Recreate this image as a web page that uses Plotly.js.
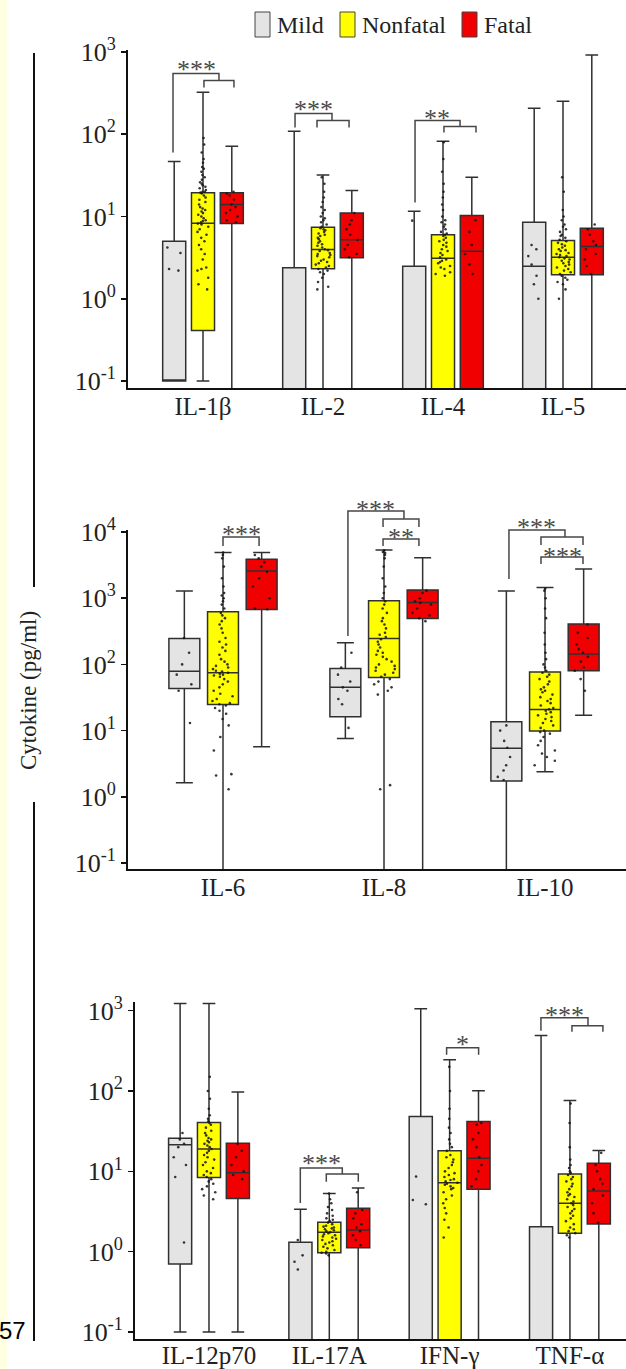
<!DOCTYPE html>
<html><head><meta charset="utf-8">
<script src="https://cdn.plot.ly/plotly-3.0.1.min.js"></script>
<style>html,body{margin:0;padding:0;background:#fff;}#chart{width:626px;height:1369px;}</style>
</head><body><div id="chart"></div>
<script>
// ---------------- DATA ----------------
const groupNames = ['Mild', 'Nonfatal', 'Fatal'];
const panel1Cats = ['IL-1β', 'IL-2', 'IL-4', 'IL-5'];
const panel2Cats = ['IL-6', 'IL-8', 'IL-10'];
const panel3Cats = ['IL-12p70', 'IL-17A', 'IFN-γ', 'TNF-α'];

// box summaries per category: [lower whisker, Q1, median, Q3, upper whisker] (pg/ml); 0.01 = undetectable (below axis)
const p1Mild     = [[0.1, 0.1, 0.1, 5.0, 46.5], [0.01, 0.01, 0.01, 2.38, 109], [0.01, 0.01, 0.01, 2.49, 11.6], [0.01, 0.01, 2.49, 8.5, 207]];
const p1Nonfatal = [[0.1, 0.41, 8.3, 19.5, 324], [0.01, 2.31, 3.97, 7.4, 32], [0.01, 0.01, 3.1, 6.0, 82], [0.01, 1.96, 3.2, 5.1, 252]];
const p1Fatal    = [[0.01, 8.2, 14, 19.5, 71.5], [0.01, 3.15, 5.2, 11, 20.7], [0.01, 0.01, 3.79, 10.3, 30], [0.01, 1.96, 4.32, 7.2, 922]];

const p2Mild     = [[1.63, 43.4, 79, 247, 1280], [7.6, 16.2, 45, 87, 212], [0.01, 1.73, 5.4, 13.6, 1280]];
const p2Nonfatal = [[0.01, 24.9, 74.7, 623, 4920], [0.01, 63.6, 247, 914, 5330], [2.39, 9.9, 20.9, 77, 1456]];
const p2Fatal    = [[5.7, 677, 2570, 3890, 4920], [0.01, 495, 864, 1325, 4080], [17.1, 80, 143, 406, 2750]];

const p3Mild     = [[0.1, 0.70, 21.4, 25.9, 1230], [0.01, 0.01, 0.01, 1.31, 3.38], [0.01, 0.01, 0.01, 48, 1058], [0.01, 0.01, 0.01, 2.05, 492]];
const p3Nonfatal = [[0.1, 8.4, 19, 40.5, 1230], [0.01, 0.97, 1.75, 2.32, 5.3], [0.01, 0.01, 7.2, 18.1, 245], [0.01, 1.69, 4.0, 9.3, 76]];
const p3Fatal    = [[0.1, 4.6, 9.6, 22.4, 97], [0.01, 1.12, 1.86, 3.47, 6.2], [0.01, 6.0, 14.6, 41.7, 101], [0.01, 2.21, 5.7, 12.6, 18.2]];

// individual patient values (detectable ones), per category
const p1MildPts = [[4.2, 3.6, 2.3, 2.2], [], [8.9], [4.5, 4, 3.3, 2.6, 1.9, 1.5, 1.0]];
const p1NonfatalPts = [
  [90, 75, 60, 50, 45, 40, 38, 35, 32, 30, 28, 26, 25, 24, 23, 22, 21, 20, 20, 19.5, 19, 18, 17, 16, 15, 14, 13, 12.5, 12, 11.5, 11, 10.5, 10, 9.5, 9, 8.8, 8.5, 8.2, 8, 7.5, 7, 6.5, 6, 5.5, 5, 4.5, 4, 3.5, 3, 2.4, 2.3, 2.2, 1.8, 1.5, 1.3],
  [30, 25, 20, 17, 15, 13, 12, 11, 10, 9.5, 9, 8.5, 8, 7.5, 7.2, 7, 6.8, 6.5, 6.2, 6, 5.8, 5.5, 5.3, 5, 4.8, 4.6, 4.4, 4.2, 4, 3.9, 3.8, 3.6, 3.5, 3.4, 3.3, 3.2, 3, 2.9, 2.8, 2.7, 2.6, 2.5, 2.4, 2.3, 2.2, 2.1, 2, 1.8, 1.6, 1.4, 1.3],
  [80, 50, 35, 25, 20, 17, 14, 12, 10, 9, 8.5, 8, 7.5, 7, 6.5, 6.2, 6, 5.8, 5.5, 5.2, 5, 4.8, 4.5, 4.3, 4, 3.8, 3.6, 3.4, 3.2, 3, 2.9, 2.8, 2.7, 2.5, 2.4, 2.3, 2.1, 2.0, 1.9],
  [30, 20, 12, 10, 9, 8, 7.5, 7, 6.5, 6, 5.8, 5.5, 5.2, 5, 4.8, 4.6, 4.4, 4.2, 4, 3.9, 3.8, 3.6, 3.5, 3.4, 3.3, 3.2, 3.1, 3, 2.9, 2.8, 2.7, 2.6, 2.5, 2.4, 2.3, 2.2, 2.1, 2, 1.9, 1.8, 1.7, 1.6, 1.5, 1.3, 1.0]
];
const p1FatalPts = [[20, 19, 18, 16, 14, 13, 12, 11, 10, 9, 8.5], [11, 9, 8, 7, 6, 5.2, 4.5, 4, 3.5, 3.2], [9, 6.5, 4.5, 3.5, 2.6, 2.0], [8, 7, 6, 5, 4.5, 4, 3.5, 3, 2.5, 2]];

const p2MildPts = [[250, 150, 100, 70, 50, 40, 13], [150, 90, 70, 55, 45, 40, 30, 25, 11], [12, 10, 7, 5.5, 4, 3, 2.5, 2, 1.8]];
const p2NonfatalPts = [
  [4900, 4500, 4000, 3000, 2000, 1500, 1200, 1100, 1000, 900, 800, 700, 600, 550, 500, 450, 400, 350, 300, 250, 220, 200, 180, 160, 140, 120, 110, 100, 95, 90, 85, 80, 78, 75, 72, 70, 68, 65, 60, 55, 50, 45, 40, 36, 33, 30, 28, 26, 25, 24, 22, 20, 18, 15, 12, 8, 5, 2.2, 2.1, 1.3],
  [5300, 5000, 4800, 4500, 4000, 3000, 2000, 1500, 1200, 1000, 900, 800, 700, 600, 500, 450, 400, 350, 300, 280, 260, 240, 220, 200, 180, 160, 150, 140, 130, 120, 110, 100, 95, 90, 85, 80, 75, 70, 65, 60, 55, 50, 45, 40, 35, 1.5, 1.3],
  [1400, 1300, 1000, 700, 500, 300, 200, 150, 120, 100, 90, 80, 75, 70, 65, 60, 55, 50, 45, 42, 40, 38, 35, 32, 30, 28, 26, 24, 22, 21, 20, 19, 18, 17, 16, 15, 14, 13, 12, 11, 10, 9.5, 9, 8, 7, 6, 5, 4.5, 4, 3.5, 3]
];
const p2FatalPts = [[4500, 4000, 3500, 3000, 2500, 2000, 1500, 1000, 700, 680], [1300, 1200, 1000, 900, 850, 800, 700, 600, 550, 500, 450], [400, 300, 250, 200, 170, 150, 130, 110, 90, 80, 60, 40]];

const p3MildPts = [[30, 25, 22, 20, 15, 12, 8.5, 1.3], [1.4, 0.9, 0.75, 0.6], [8.6, 4.4, 3.9], []];
const p3NonfatalPts = [
  [150, 100, 80, 60, 50, 45, 42, 40, 38, 35, 32, 30, 28, 26, 25, 24, 23, 22, 21, 20, 19, 18, 17, 16, 15, 14, 13, 12, 11, 10, 9.5, 9, 8.5, 8, 7.5, 7, 6.5, 6, 5.5, 5, 4.5],
  [5.3, 4.5, 4, 3.6, 3.3, 3, 2.8, 2.6, 2.5, 2.4, 2.3, 2.2, 2.1, 2.05, 2, 1.95, 1.9, 1.85, 1.8, 1.75, 1.7, 1.65, 1.6, 1.55, 1.5, 1.45, 1.4, 1.35, 1.3, 1.25, 1.2, 1.15, 1.1, 1.05, 1.0, 0.97, 0.95, 0.9],
  [200, 100, 60, 45, 35, 30, 25, 22, 20, 18, 16, 15, 14, 13, 12, 11, 10, 9.5, 9, 8.5, 8, 7.8, 7.5, 7.2, 7, 6.8, 6.5, 6.2, 6, 5.5, 5, 4.5, 4, 3.5, 3, 2.5, 2, 1.5],
  [70, 40, 20, 14, 12, 11, 10, 9.5, 9, 8.5, 8, 7.5, 7, 6.5, 6, 5.5, 5.2, 5, 4.8, 4.5, 4.2, 4, 3.8, 3.6, 3.4, 3.2, 3, 2.8, 2.6, 2.4, 2.2, 2, 1.9, 1.8, 1.7, 1.6, 1.5]
];
const p3FatalPts = [[22, 18, 15, 12, 10, 9, 8], [5.5, 3.3, 3, 2.6, 2.2, 2, 1.8, 1.6, 1.4, 1.2], [40, 38, 30, 25, 20, 15, 12, 10, 8, 6.5], [17, 12, 10, 8, 7, 6, 5, 4, 3, 2.3]];

const p1TickVals = [0.1, 1, 10, 100, 1000];
const p1TickText = ['10<sup>-1</sup>', '10<sup>0</sup>', '10<sup>1</sup>', '10<sup>2</sup>', '10<sup>3</sup>'];
const p2TickVals = [0.1, 1, 10, 100, 1000, 10000];
const p2TickText = ['10<sup>-1</sup>', '10<sup>0</sup>', '10<sup>1</sup>', '10<sup>2</sup>', '10<sup>3</sup>', '10<sup>4</sup>'];

// significance marks: [panel, category, left offset, right offset, top (log10), left leg end (log10), right leg end (log10)]
const bracketSpecs = [
  [0, 0, -0.25, 0.133, 2.738, 1.778, 2.652], [0, 0, 0.008, 0.258, 2.652, 2.567, 2.567],
  [0, 1, -0.233, 0.075, 2.252, 2.082, 2.167], [0, 1, -0.05, 0.217, 2.167, 2.082, 2.082],
  [0, 2, -0.233, 0.142, 2.167, 1.170, 2.094], [0, 2, 0.008, 0.275, 2.094, 2.021, 2.021],
  [1, 0, 0.0, 0.224, 3.923, 3.787, 3.787],
  [1, 1, -0.224, 0.124, 4.316, 2.428, 4.195], [1, 1, -0.006, 0.217, 4.195, 4.074, 4.074], [1, 1, -0.006, 0.217, 3.893, 3.787, 3.787],
  [1, 2, -0.224, 0.124, 4.029, 3.289, 3.923], [1, 2, -0.025, 0.236, 3.923, 3.802, 3.802], [1, 2, -0.025, 0.236, 3.621, 3.515, 3.515],
  [2, 1, -0.241, 0.108, 1.043, 0.607, 0.968], [2, 1, -0.025, 0.241, 0.968, 0.869, 0.869],
  [2, 2, -0.025, 0.241, 2.538, 2.451, 2.451],
  [2, 3, -0.241, 0.150, 2.912, 2.750, 2.813], [2, 3, 0.017, 0.274, 2.813, 2.738, 2.738]
];
// [panel, category, offset, glyph centre (log10), text]
const starSpecs = [
  [0, 0, -0.058, 2.859, '***'], [0, 1, -0.079, 2.373, '***'], [0, 2, -0.046, 2.264, '**'],
  [1, 0, 0.112, 4.059, '***'], [1, 1, -0.05, 4.437, '***'], [1, 1, 0.106, 4.014, '**'],
  [1, 2, -0.05, 4.165, '***'], [1, 2, 0.106, 3.727, '***'],
  [2, 1, -0.067, 1.168, '***'], [2, 2, 0.108, 2.650, '*'], [2, 3, -0.046, 3.012, '***']
];

// ---------------- FIGURE ----------------
const W = 626, H = 1369;
const PX = v => v / W, PY = v => 1 - v / H;
const panels = [
  {cats: panel1Cats, xdom: [PX(128), 1], ydom: [PY(388), PY(50)], xr: [-0.625, 3.525], yr: [-1.085, 3.024], tv: p1TickVals, tt: p1TickText, so: -5},
  {cats: panel2Cats, xdom: [PX(128), 1], ydom: [PY(869), PY(530)], xr: [-0.59, 2.503], yr: [-1.09, 4.03], tv: p2TickVals, tt: p2TickText, so: -5},
  {cats: panel3Cats, xdom: [PX(135), 1], ydom: [PY(1339), PY(1002)], xr: [-0.615, 3.466], yr: [-1.087, 3.108], tv: p1TickVals, tt: p1TickText, so: -7}
];
const stats = [[p1Mild, p1Nonfatal, p1Fatal], [p2Mild, p2Nonfatal, p2Fatal], [p3Mild, p3Nonfatal, p3Fatal]];
const pts = [[p1MildPts, p1NonfatalPts, p1FatalPts], [p2MildPts, p2NonfatalPts, p2FatalPts], [p3MildPts, p3NonfatalPts, p3FatalPts]];
const fills = ['#e4e4e4', '#ffff00', '#f00000'];
const edge = '#303030';

const traces = [];
const layout = {
  width: W, height: H, margin: {l: 0, r: 0, t: 0, b: 0},
  paper_bgcolor: '#ffffff', plot_bgcolor: 'rgba(0,0,0,0)',
  font: {family: 'Liberation Serif', color: '#222'},
  boxmode: 'group', boxgap: 0.28, boxgroupgap: 0.2, showlegend: false,
  shapes: [], annotations: []
};

panels.forEach((P, p) => {
  const sfx = p === 0 ? '' : String(p + 1);
  const xa = 'x' + sfx, ya = 'y' + sfx;
  for (let g = 0; g < 3; g++) {
    const st = stats[p][g];
    traces.push({
      type: 'box', name: groupNames[g], x: P.cats, xaxis: xa, yaxis: ya,
      lowerfence: st.map(r => r[0]), q1: st.map(r => r[1]), median: st.map(r => r[2]),
      q3: st.map(r => r[3]), upperfence: st.map(r => r[4]),
      boxpoints: false, fillcolor: fills[g], line: {color: edge, width: 1.5}, whiskerwidth: 0.55,
      offsetgroup: groupNames[g], alignmentgroup: 'p' + p, hoverinfo: 'skip'
    });
  }
  for (let g = 0; g < 3; g++) {
    const xs = [], ys = [];
    pts[p][g].forEach((arr, ci) => arr.forEach(v => { xs.push(P.cats[ci]); ys.push(v); }));
    traces.push({
      type: 'box', name: groupNames[g] + ' patients', x: xs, y: ys, xaxis: xa, yaxis: ya,
      boxpoints: 'all', jitter: 0.7, pointpos: 0,
      marker: {size: 2.6, color: '#151515', opacity: 0.85},
      fillcolor: 'rgba(0,0,0,0)', line: {color: 'rgba(0,0,0,0)', width: 0}, whiskerwidth: 0,
      offsetgroup: groupNames[g], alignmentgroup: 'p' + p, hoverinfo: 'skip'
    });
  }
  layout['xaxis' + sfx] = {
    domain: P.xdom, range: P.xr, anchor: ya, type: 'category', categoryorder: 'array', categoryarray: P.cats,
    showline: true, linecolor: '#111', linewidth: 2, ticks: '', showgrid: false, zeroline: false,
    ticklabelstandoff: P.so,
    tickfont: {size: 25, family: 'Liberation Serif', color: '#222'}, fixedrange: true
  };
  layout['yaxis' + sfx] = {
    domain: P.ydom, range: P.yr, anchor: xa, type: 'log', tickmode: 'array', tickvals: P.tv, ticktext: P.tt,
    showline: true, linecolor: '#111', linewidth: 2, ticks: 'outside', ticklen: 5, tickwidth: 1.5, tickcolor: '#111',
    showgrid: false, zeroline: false, tickfont: {size: 26, family: 'Liberation Serif', color: '#222'}, fixedrange: true
  };
});

// data -> paper helpers for significance marks
const toPX = (p, c) => { const P = panels[p]; return P.xdom[0] + (c - P.xr[0]) / (P.xr[1] - P.xr[0]) * (P.xdom[1] - P.xdom[0]); };
const toPY = (p, l) => { const P = panels[p]; return P.ydom[0] + (l - P.yr[0]) / (P.yr[1] - P.yr[0]) * (P.ydom[1] - P.ydom[0]); };

bracketSpecs.forEach(([p, c, o0, o1, top, l0, l1]) => {
  const x0 = toPX(p, c + o0), x1 = toPX(p, c + o1);
  layout.shapes.push({
    type: 'path', xref: 'paper', yref: 'paper',
    path: `M${x0},${toPY(p, l0)} L${x0},${toPY(p, top)} L${x1},${toPY(p, top)} L${x1},${toPY(p, l1)}`,
    line: {color: '#474747', width: 1.5}
  });
});
starSpecs.forEach(([p, c, o, l, t]) => {
  layout.annotations.push({
    xref: 'paper', yref: 'paper', x: toPX(p, c + o), y: toPY(p, l), text: t, showarrow: false,
    xanchor: 'center', yanchor: 'middle', yshift: -6, font: {size: 26, color: '#4a4a4a', family: 'Liberation Serif'}
  });
});

// page decorations: margin strip, y-title rule, legend, page number
layout.shapes.push({type: 'rect', xref: 'paper', yref: 'paper', x0: 0, x1: PX(7), y0: 0, y1: 1, fillcolor: 'rgb(255,255,226)', line: {width: 0}, layer: 'below'});
layout.shapes.push({type: 'line', xref: 'paper', yref: 'paper', x0: PX(34), x1: PX(34), y0: PY(53), y1: PY(587), line: {color: '#111', width: 2}});
layout.shapes.push({type: 'line', xref: 'paper', yref: 'paper', x0: PX(34), x1: PX(34), y0: PY(802), y1: PY(1341), line: {color: '#111', width: 2}});
layout.annotations.push({xref: 'paper', yref: 'paper', x: PX(29), y: PY(691), text: 'Cytokine (pg/ml)', textangle: -90, showarrow: false,
  xanchor: 'center', yanchor: 'middle', font: {size: 23, family: 'Liberation Serif', color: '#222'}});
layout.annotations.push({xref: 'paper', yref: 'paper', x: PX(28), y: PY(1330), text: '57', showarrow: false,
  xanchor: 'right', yanchor: 'middle', font: {size: 24, family: 'Liberation Sans', color: '#000'}});

const legendX = [255, 340, 462];
groupNames.forEach((n, g) => {
  layout.shapes.push({type: 'rect', xref: 'paper', yref: 'paper', x0: PX(legendX[g]), x1: PX(legendX[g] + 15), y0: PY(37), y1: PY(12),
    fillcolor: fills[g], line: {color: '#444', width: 1}});
  layout.annotations.push({xref: 'paper', yref: 'paper', x: PX(legendX[g] + 20), y: PY(25), text: n, showarrow: false,
    xanchor: 'left', yanchor: 'middle', font: {size: 24, family: 'Liberation Serif', color: '#222'}});
});

Plotly.newPlot('chart', traces, layout, {staticPlot: true, displayModeBar: false});
</script></body></html>
